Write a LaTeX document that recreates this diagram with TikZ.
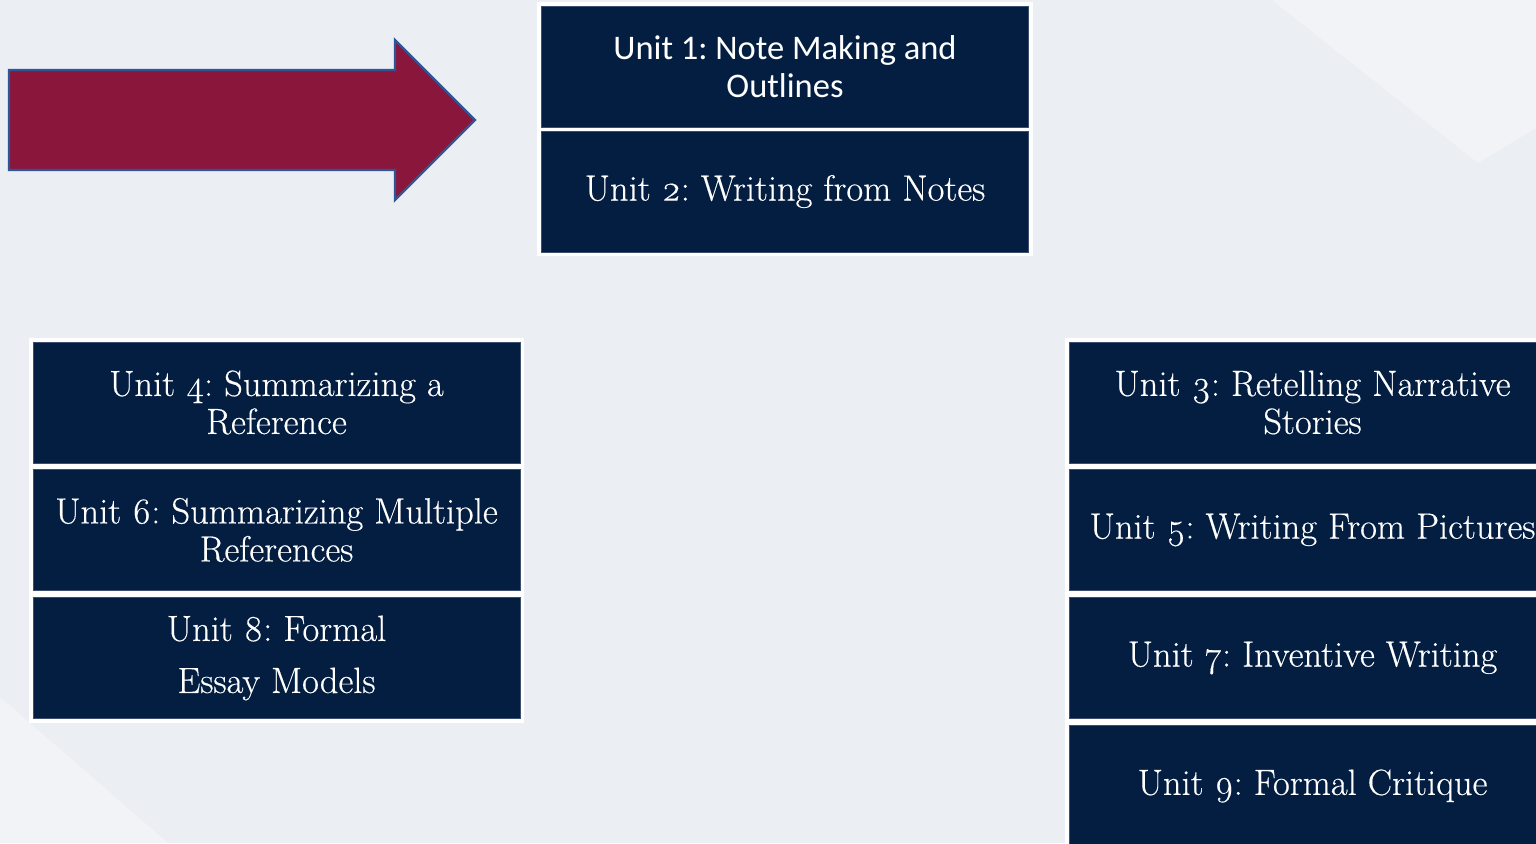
\documentclass[tikz,border=0pt]{standalone}
\usepackage{fontspec}
\setmainfont{Latin Modern Roman}[Numbers=OldStyle, FakeBold=0.35]
\newfontfamily\unitsans{Carlito}
\usetikzlibrary{fit,backgrounds}
\frenchspacing

\definecolor{pagebg}{HTML}{EBEEF3}
\definecolor{pagelight}{HTML}{F2F3F7}
\definecolor{unitnavy}{HTML}{041E42}
\definecolor{unitedge}{HTML}{3C4F6E}
\definecolor{arrowfill}{HTML}{8A173B}
\definecolor{arrowedge}{HTML}{2F5597}

\tikzset{
  unitbox/.style={rectangle, fill=unitnavy, draw=unitedge, line width=0.8,
    text=white, align=center, inner sep=0pt,
    minimum width=487, minimum height=121,
    font=\fontsize{36.5}{38}\selectfont},
  unitboxsans/.style={unitbox, font=\unitsans\fontsize{34.5}{38}\selectfont},
  backing/.style={rectangle, fill=white, inner sep=4pt, draw=none},
}

\begin{document}
\begin{tikzpicture}[x=1pt, y=-1pt]
  \useasboundingbox (0,0) rectangle (1536,843);

  % unit boxes: top pair
  \node[unitboxsans] (u1) at (785,67)    {Unit 1: Note Making and\\Outlines};
  \node[unitbox]     (u2) at (785,191.5) {Unit 2: Writing from Notes};

  % left column
  \node[unitbox] (u4) at (276.5,402.5) {Unit 4: Summarizing a\\Reference};
  \node[unitbox] (u6) at (276.5,530)   {Unit 6: Summarizing Multiple\\References};
  \node[unitbox, font=\fontsize{36.5}{52}\selectfont] (u8) at (276.5,658)
    {Unit 8: Formal\\Essay Models};

  % right column
  \node[unitbox] (u3) at (1312.5,402.5) {Unit 3: Retelling Narrative\\Stories};
  \node[unitbox] (u5) at (1312.5,530)   {Unit 5: Writing From Pictures};
  \node[unitbox] (u7) at (1312.5,658)   {Unit 7: Inventive Writing};
  \node[unitbox] (u9) at (1312.5,786)   {Unit 9: Formal Critique};

  \begin{scope}[on background layer]
    % page background with soft lighter facets
    \fill[pagebg] (0,0) rectangle (1536,843);
    \fill[pagelight] (1272,0) -- (1536,0) -- (1536,128) -- (1478,163) -- cycle;
    \fill[pagelight] (0,697) -- (168,843) -- (0,843) -- cycle;
    % white mats behind each group
    \node[backing, fit=(u1)(u2)] {};
    \node[backing, fit=(u4)(u6)(u8)] {};
    \node[backing, fit=(u3)(u5)(u7)(u9)] {};
  \end{scope}

  % block arrow
  \filldraw[fill=arrowfill, draw=arrowedge, line width=2.2, line join=miter]
    (9,70) -- (395,70) -- (395,40) -- (475,120) -- (395,200) -- (395,170)
    -- (9,170) -- cycle;
\end{tikzpicture}
\end{document}
